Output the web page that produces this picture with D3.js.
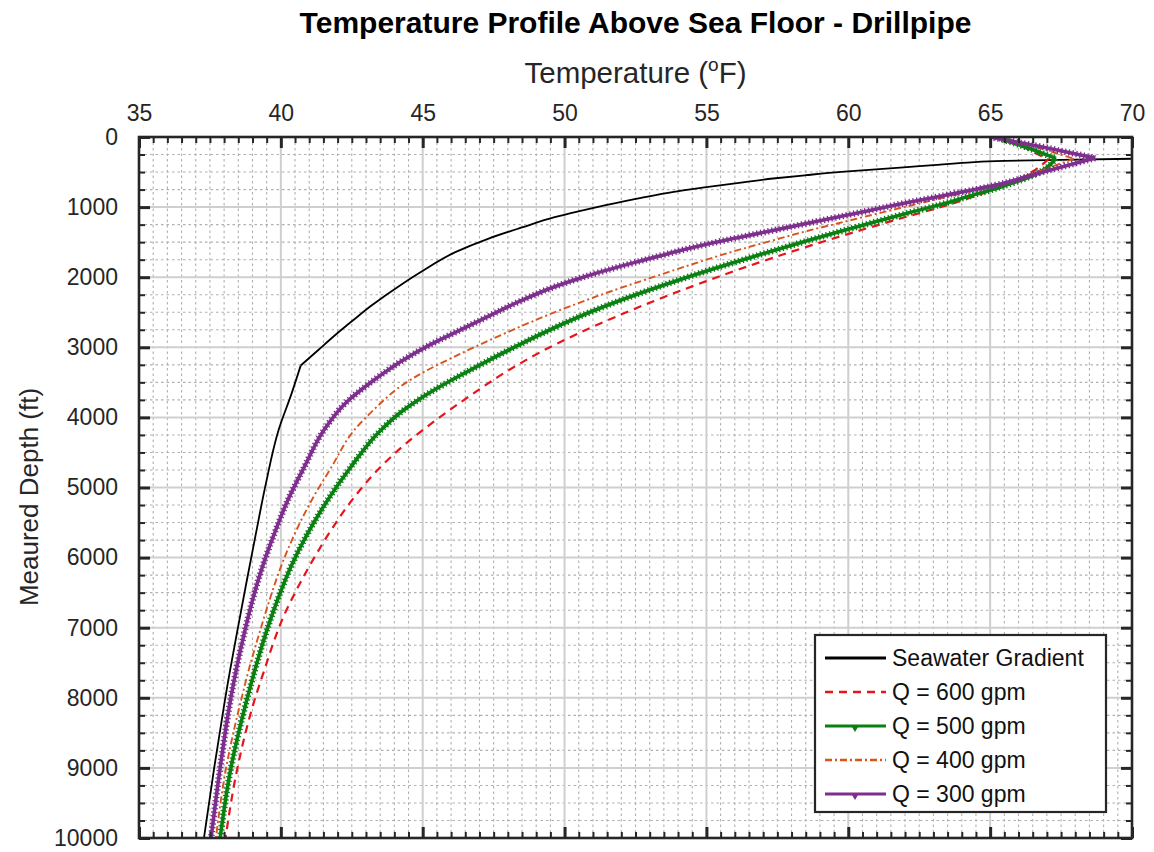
<!DOCTYPE html>
<html>
<head>
<meta charset="utf-8">
<script src="https://cdn.jsdelivr.net/npm/d3@7"></script>
<style>
  html, body { margin: 0; padding: 0; background: #fff; }
  svg { display: block; font-family: "Liberation Sans", Arial, sans-serif; }
</style>
</head>
<body>
<svg id="chart" width="1154" height="852"></svg>
<script>
// Axis ticks
const tempTicks = [35, 40, 45, 50, 55, 60, 65, 70];
const depthTicks = [0, 1000, 2000, 3000, 4000, 5000, 6000, 7000, 8000, 9000, 10000];
const tempMinor = d3.range(35, 70.01, 0.5).filter(v => v % 5 !== 0);
const depthMinor = d3.range(0, 10001, 250).filter(v => v % 1000 !== 0);

// Profiles: [measured depth (ft), temperature (°F)]
const seawater = [
  [310, 70], [325, 67.5], [340, 65.5], [365, 64.2], [400, 63.0], [432, 61.95], [465, 60.85],
  [498, 59.75], [545, 58.5], [592, 57.35], [654, 56.15], [716, 55.0], [782, 53.85],
  [867, 52.7], [972, 51.45], [1050, 50.6], [1143, 49.65], [1290, 48.5], [1452, 47.3],
  [1643, 46.15], [1929, 44.92], [2081, 44.33], [2412, 43.17], [2610, 42.56], [2800, 41.99],
  [3038, 41.32], [3260, 40.7], [3657, 40.38], [4180, 39.92], [4948, 39.47], [5659, 39.12],
  [6370, 38.78], [7081, 38.45], [7791, 38.13], [8030, 38.03], [9000, 37.65], [10000, 37.29]
];
const q600 = [
  [0, 65.2], [150, 66.2], [320, 67.05], [490, 66.5], [720, 65.3], [860, 64.35], [1009, 63.18],
  [1128, 62.14], [1250, 61.1], [1400, 59.86], [1550, 58.66], [1720, 57.37], [1880, 56.21],
  [2060, 54.97], [2240, 53.78], [2410, 52.72], [2600, 51.6], [2810, 50.44], [3060, 49.19],
  [3357, 47.91], [3643, 46.84], [4010, 45.56], [4380, 44.39], [4758, 43.39], [5137, 42.59],
  [5564, 41.84], [5896, 41.33], [6370, 40.67], [6844, 40.09], [7223, 39.73], [7602, 39.42],
  [8035, 39.07], [9000, 38.47], [10000, 38.05]
];
const q500 = [
  [0, 65.2], [150, 66.3], [305, 67.32], [490, 66.8], [710, 65.4], [840, 64.3], [972, 63.18],
  [1081, 62.14], [1209, 60.96], [1341, 59.77], [1474, 58.61], [1626, 57.32], [1744, 56.35],
  [1886, 55.2], [1990, 54.4], [2143, 53.27], [2315, 52.07], [2500, 50.89], [2714, 49.68],
  [2976, 48.34], [3214, 47.19], [3371, 46.46], [3620, 45.36], [3720, 44.96], [3895, 44.33],
  [4200, 43.48], [4711, 42.46], [5185, 41.64], [5659, 40.94], [6133, 40.35], [6607, 39.88],
  [7081, 39.47], [7555, 39.12], [8030, 38.8], [9000, 38.24], [10000, 37.86]
];
const q400 = [
  [0, 65.1], [140, 66.6], [310, 67.95], [490, 66.7], [690, 65.2], [780, 64.25], [905, 62.95],
  [1010, 61.87], [1120, 60.75], [1230, 59.65], [1341, 58.55], [1470, 57.38], [1590, 56.31],
  [1690, 55.48], [1857, 54.18], [2000, 53.11], [2143, 52.05], [2310, 50.88], [2524, 49.5],
  [2738, 48.25], [2940, 47.13], [3150, 46.03], [3357, 45.02], [3562, 44.2], [3850, 43.38],
  [4185, 42.58], [4711, 41.78], [5185, 41.08], [5659, 40.49], [6133, 40.0], [6607, 39.6],
  [7081, 39.24], [7555, 38.9], [8030, 38.6], [9000, 38.07], [10000, 37.71]
];
const q300 = [
  [0, 65.0], [138, 66.8], [300, 68.7], [495, 66.9], [690, 65.15], [749, 64.45], [844, 63.25],
  [938, 62.05], [1047, 60.75], [1128, 59.8], [1223, 58.65], [1341, 57.25], [1436, 56.1],
  [1531, 55.0], [1664, 53.65], [1792, 52.45], [1910, 51.4], [2000, 50.65], [2143, 49.6],
  [2357, 48.35], [2571, 47.25], [2786, 46.15], [2976, 45.2], [3205, 44.22], [3538, 43.05],
  [3780, 42.32], [4180, 41.52], [4711, 40.82], [5185, 40.24], [5659, 39.77], [6133, 39.35],
  [6607, 39.0], [7081, 38.71], [7555, 38.45], [8040, 38.22], [9000, 37.86], [10000, 37.54]
];
const seriesNames = ["Seawater Gradient", "Q = 600 gpm", "Q = 500 gpm", "Q = 400 gpm", "Q = 300 gpm"];

const svg = d3.select("#chart");
const W = 1154, H = 852;
const m = { left: 139, right: 1132, top: 137, bottom: 838 };
const ink = "#262626";
const font = "'Liberation Sans', Arial, sans-serif";

svg.append("rect").attr("width", W).attr("height", H).attr("fill", "#fff");

const x = d3.scaleLinear().domain([35, 70]).range([m.left, m.right]);
const y = d3.scaleLinear().domain([0, 10000]).range([m.top, m.bottom]);

// Grid: dotted minor lines, solid major lines
const grid = svg.append("g");
grid.selectAll(".vmin").data(tempMinor).join("line")
  .attr("x1", d => x(d)).attr("x2", d => x(d)).attr("y1", m.top).attr("y2", m.bottom)
  .attr("stroke", "#b0b0b0").attr("stroke-width", 1.1).attr("stroke-dasharray", "2.5 3");
grid.selectAll(".hmin").data(depthMinor).join("line")
  .attr("y1", d => y(d)).attr("y2", d => y(d)).attr("x1", m.left).attr("x2", m.right)
  .attr("stroke", "#b0b0b0").attr("stroke-width", 1.1).attr("stroke-dasharray", "2.5 3");
grid.selectAll(".vmaj").data(tempTicks).join("line")
  .attr("x1", d => x(d)).attr("x2", d => x(d)).attr("y1", m.top).attr("y2", m.bottom)
  .attr("stroke", "#cfcfcf").attr("stroke-width", 2);
grid.selectAll(".hmaj").data(depthTicks).join("line")
  .attr("y1", d => y(d)).attr("y2", d => y(d)).attr("x1", m.left).attr("x2", m.right)
  .attr("stroke", "#cfcfcf").attr("stroke-width", 2);

// Profiles
svg.append("clipPath").attr("id", "plotClip").append("rect")
  .attr("x", m.left).attr("y", m.top).attr("width", m.right - m.left).attr("height", m.bottom - m.top);
const plot = svg.append("g").attr("clip-path", "url(#plotClip)");
const straight = d3.line().x(d => x(d[1])).y(d => y(d[0]));
const smooth = d3.line().x(d => x(d[1])).y(d => y(d[0])).curve(d3.curveMonotoneY);

// cornerDepth: where the profile has a sharp corner (peak, or gradient break)
const styles = [
  { data: seawater, color: "#000000", width: 1.8, dash: null, cornerDepth: 3260, topStraight: false },
  { data: q600, color: "#e8141c", width: 2.2, dash: "8 6", cornerDepth: 320, topStraight: true },
  { data: q500, color: "#0a8012", width: 3.6, dash: null, marks: true, cornerDepth: 305, topStraight: true },
  { data: q400, color: "#d9541c", width: 1.9, dash: "7 3 2 3", cornerDepth: 310, topStraight: true },
  { data: q300, color: "#7e2f8e", width: 3.6, dash: null, marks: true, cornerDepth: 300, topStraight: true }
];

function drawPiece(pts, gen, s) {
  plot.append("path").datum(pts).attr("d", gen)
    .attr("fill", "none").attr("stroke", s.color).attr("stroke-width", s.width)
    .attr("stroke-linejoin", "round").attr("stroke-dasharray", s.dash);
  if (s.marks) {
    // dense small markers along the line
    plot.append("path").datum(pts).attr("d", gen)
      .attr("fill", "none").attr("stroke", s.color).attr("stroke-width", 6.5)
      .attr("stroke-dasharray", "1.3 2.5");
  }
}
styles.forEach(s => {
  const k = s.data.findIndex(d => d[0] === s.cornerDepth);
  drawPiece(s.data.slice(0, k + 1), s.topStraight ? straight : smooth, s);
  drawPiece(s.data.slice(k), smooth, s);
});

// Axes (ticks inward, mirrored on all four sides)
function styleAxis(g, w) {
  g.select(".domain").remove();
  g.selectAll(".tick line").attr("stroke", ink).attr("stroke-width", w);
  g.selectAll("text").attr("fill", ink).attr("font-size", 23).attr("font-family", font);
}
const axTopMinor = svg.append("g").attr("transform", `translate(0,${m.top})`)
  .call(d3.axisTop(x).tickValues(tempMinor).tickSize(-6).tickFormat(""));
styleAxis(axTopMinor, 2);
const axTop = svg.append("g").attr("transform", `translate(0,${m.top})`)
  .call(d3.axisTop(x).tickValues(tempTicks).tickSize(-11).tickPadding(16).tickFormat(d3.format("d")));
styleAxis(axTop, 3);

const axBotMinor = svg.append("g").attr("transform", `translate(0,${m.bottom})`)
  .call(d3.axisBottom(x).tickValues(tempMinor).tickSize(-6).tickFormat(""));
styleAxis(axBotMinor, 2);
const axBot = svg.append("g").attr("transform", `translate(0,${m.bottom})`)
  .call(d3.axisBottom(x).tickValues(tempTicks).tickSize(-11).tickFormat(""));
styleAxis(axBot, 3);

const axLeftMinor = svg.append("g").attr("transform", `translate(${m.left},0)`)
  .call(d3.axisLeft(y).tickValues(depthMinor).tickSize(-6).tickFormat(""));
styleAxis(axLeftMinor, 2);
const axLeft = svg.append("g").attr("transform", `translate(${m.left},0)`)
  .call(d3.axisLeft(y).tickValues(depthTicks).tickSize(-11).tickPadding(21).tickFormat(d3.format("d")));
styleAxis(axLeft, 3);

const axRightMinor = svg.append("g").attr("transform", `translate(${m.right},0)`)
  .call(d3.axisRight(y).tickValues(depthMinor).tickSize(-6).tickFormat(""));
styleAxis(axRightMinor, 2);
const axRight = svg.append("g").attr("transform", `translate(${m.right},0)`)
  .call(d3.axisRight(y).tickValues(depthTicks).tickSize(-11).tickFormat(""));
styleAxis(axRight, 3);

// Frame
svg.append("rect").attr("x", m.left).attr("y", m.top)
  .attr("width", m.right - m.left).attr("height", m.bottom - m.top)
  .attr("fill", "none").attr("stroke", ink).attr("stroke-width", 2.6);

// Titles
const cx = (m.left + m.right) / 2;
svg.append("text").attr("x", cx).attr("y", 33).attr("text-anchor", "middle")
  .attr("font-size", 30).attr("font-weight", "bold").attr("fill", "#000")
  .text("Temperature Profile Above Sea Floor - Drillpipe");

const xl = svg.append("text").attr("x", cx).attr("y", 83).attr("text-anchor", "middle")
  .attr("font-size", 29.5).attr("fill", ink);
xl.append("tspan").text("Temperature (");
xl.append("tspan").attr("font-size", 19).attr("dy", -12).text("o");
xl.append("tspan").attr("dy", 12).text("F)");

svg.append("text")
  .attr("transform", `translate(38,497) rotate(-90)`)
  .attr("text-anchor", "middle").attr("font-size", 26).attr("fill", ink)
  .text("Meaured Depth (ft)");

// Legend
const lg = svg.append("g");
lg.append("rect").attr("x", 815).attr("y", 635).attr("width", 291).attr("height", 177)
  .attr("fill", "#fff").attr("stroke", ink).attr("stroke-width", 2.2);
const rows = lg.selectAll(".row").data(styles).join("g")
  .attr("transform", (d, i) => `translate(0,${658 + i * 34})`);
rows.append("line").attr("x1", 825).attr("x2", 886).attr("y1", 0).attr("y2", 0)
  .attr("stroke", d => d.color).attr("stroke-width", d => d.marks ? 3.2 : (d.dash ? 2.4 : 2.8))
  .attr("stroke-dasharray", d => d.dash);
rows.filter(d => d.marks).append("path")
  .attr("d", d3.symbol().type(d3.symbolTriangle).size(22))
  .attr("transform", "translate(855,2) rotate(180)")
  .attr("fill", d => d.color);
rows.append("text").attr("x", 892).attr("y", 0).attr("dy", "0.36em")
  .attr("font-size", 23).attr("fill", "#111").attr("font-family", font)
  .text((d, i) => seriesNames[i]);
</script>
</body>
</html>
